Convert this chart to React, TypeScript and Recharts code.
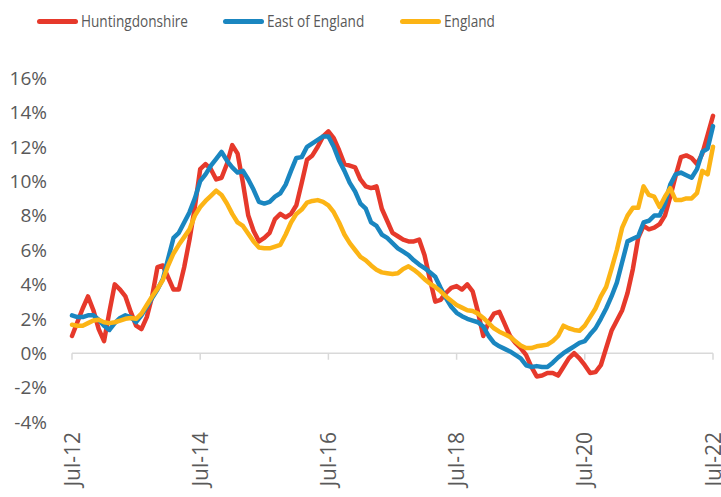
import { LineChart, Line, XAxis, YAxis, Legend, ReferenceLine } from "recharts";

const MONTH_NAMES = ["Jan", "Feb", "Mar", "Apr", "May", "Jun", "Jul", "Aug", "Sep", "Oct", "Nov", "Dec"];

// monthly periods, Jul-12 .. Jul-22
const PERIODS: string[] = [];
for (let i = 0; i <= 120; i++) {
  const m = (6 + i) % 12;
  const y = 12 + Math.floor((6 + i) / 12);
  PERIODS.push(`${MONTH_NAMES[m]}-${y}`);
}

const huntingdonshire = [
  1.0, 1.8, 2.6, 3.3, 2.5, 1.4, 0.7, 2.4, 4.0, 3.7, 3.3, 2.4,
  1.6, 1.4, 2.1, 3.3, 5.0, 5.1, 4.4, 3.7, 3.7, 5.0, 6.6, 8.5,
  10.7, 11.0, 10.7, 10.1, 10.2, 11.0, 12.1, 11.6, 9.9, 8.0, 7.1, 6.5,
  6.7, 7.0, 7.8, 8.1, 7.9, 8.1, 8.6, 9.9, 11.25, 11.5, 12.0, 12.6,
  12.9, 12.5, 11.8, 11.0, 10.9, 10.8, 10.1, 9.7, 9.6, 9.7, 8.4, 7.7,
  7.0, 6.8, 6.6, 6.5, 6.5, 6.6, 5.7, 4.3, 3.0, 3.1, 3.5, 3.8,
  3.9, 3.7, 4.0, 3.6, 2.4, 1.0, 1.8, 2.3, 2.4, 1.7, 1.0, 0.6,
  0.3, -0.1, -0.8, -1.35, -1.3, -1.15, -1.15, -1.3, -0.8, -0.3, 0.0, -0.3,
  -0.7, -1.15, -1.1, -0.7, 0.3, 1.3, 1.9, 2.5, 3.5, 4.9, 6.7, 7.4,
  7.2, 7.3, 7.5, 8.0, 9.1, 10.3, 11.4, 11.5, 11.35, 11.0, 11.6, 12.7,
  13.8,
];

const eastOfEngland = [
  2.2, 2.1, 2.1, 2.2, 2.2, 1.95, 1.6, 1.35, 1.75, 2.05, 2.2, 2.1,
  1.8, 2.2, 2.7, 3.2, 3.7, 4.3, 5.5, 6.7, 7.0, 7.6, 8.2, 9.0,
  10.0, 10.4, 10.9, 11.3, 11.7, 11.2, 10.8, 10.5, 10.6, 10.1, 9.5, 8.8,
  8.7, 8.8, 9.1, 9.3, 9.8, 10.6, 11.35, 11.4, 12.0, 12.2, 12.4, 12.6,
  12.6, 12.0, 11.2, 10.6, 9.9, 9.4, 8.7, 8.4, 7.6, 7.4, 6.9, 6.7,
  6.4, 6.1, 5.9, 5.7, 5.4, 5.15, 4.95, 4.7, 4.45, 3.8, 3.2, 2.7,
  2.35, 2.15, 2.0, 1.9, 1.8, 1.55, 1.0, 0.6, 0.4, 0.25, 0.1, -0.1,
  -0.3, -0.7, -0.8, -0.75, -0.8, -0.8, -0.55, -0.25, 0.0, 0.2, 0.4, 0.6,
  0.7, 1.1, 1.45, 2.0, 2.6, 3.3, 4.1, 5.3, 6.5, 6.65, 6.8, 7.6,
  7.7, 8.0, 8.0, 8.7, 9.8, 10.4, 10.5, 10.35, 10.2, 10.7, 11.7, 11.9,
  13.2,
];

const england = [
  1.65, 1.6, 1.6, 1.75, 1.9, 1.95, 1.8, 1.75, 1.8, 1.9, 2.0, 2.05,
  2.0, 2.3, 2.8, 3.3, 3.75, 4.25, 5.1, 5.8, 6.3, 6.75, 7.2, 8.0,
  8.5, 8.85, 9.15, 9.45, 9.2, 8.7, 8.1, 7.6, 7.4, 6.95, 6.5, 6.15,
  6.1, 6.1, 6.2, 6.3, 6.9, 7.6, 8.1, 8.35, 8.75, 8.85, 8.9, 8.8,
  8.6, 8.2, 7.6, 6.9, 6.4, 6.0, 5.6, 5.4, 5.1, 4.85, 4.7, 4.65,
  4.6, 4.65, 4.9, 5.05, 4.85, 4.6, 4.3, 4.05, 3.85, 3.6, 3.3, 3.05,
  2.8, 2.65, 2.5, 2.45, 2.3, 2.05, 1.75, 1.45, 1.25, 1.1, 0.95, 0.7,
  0.45, 0.3, 0.3, 0.4, 0.45, 0.5, 0.7, 1.0, 1.6, 1.45, 1.35, 1.3,
  1.6, 2.1, 2.6, 3.3, 3.85, 4.9, 6.0, 7.3, 8.0, 8.45, 8.45, 9.7,
  9.2, 9.1, 8.5, 9.1, 9.6, 8.9, 8.9, 9.0, 9.0, 9.3, 10.6, 10.4,
  12.0,
];

const Y_TICKS = [-4, -2, 0, 2, 4, 6, 8, 10, 12, 14, 16];
const X_TICK_LABELS = ["Jul-12", "Jul-14", "Jul-16", "Jul-18", "Jul-20", "Jul-22"];

const SERIES = [
  { key: "huntingdonshire", name: "Huntingdonshire", color: "#e6392b" },
  { key: "eastOfEngland", name: "East of England", color: "#1a86c0" },
  { key: "england", name: "England", color: "#fcb415" },
];

const data = PERIODS.map((period, i) => ({
  period,
  huntingdonshire: huntingdonshire[i],
  eastOfEngland: eastOfEngland[i],
  england: england[i],
}));

const TICK_FONT = "'Open Sans', sans-serif";
const TEXT_COLOR = "#595959";
const AXIS_COLOR = "#d9d9d9";

// legend item x positions, as in the original
const LEGEND_X = [37, 223, 400];

function ChartLegend() {
  return (
    <div style={{ position: "relative", width: 721, height: 40 }}>
      {SERIES.map((s, i) => (
        <div
          key={s.key}
          style={{
            position: "absolute",
            left: LEGEND_X[i],
            top: 10,
            display: "flex",
            alignItems: "center",
            fontFamily: TICK_FONT,
            fontSize: 17,
            lineHeight: "22px",
            color: TEXT_COLOR,
            whiteSpace: "nowrap",
          }}
        >
          <span
            style={{
              display: "inline-block",
              width: 41,
              height: 5,
              borderRadius: 3,
              background: s.color,
              marginRight: 3,
            }}
          />
          <span style={{ display: "inline-block", transform: "scaleX(0.8)", transformOrigin: "left center" }}>
            {s.name}
          </span>
        </div>
      ))}
    </div>
  );
}

function XTick({ x, y, payload }: any) {
  return (
    <text
      x={x}
      y={y}
      transform={`rotate(-90, ${x}, ${y})`}
      textAnchor="end"
      dy="0.36em"
      fill={TEXT_COLOR}
      fontFamily={TICK_FONT}
      fontSize={21}
    >
      {payload.value}
    </text>
  );
}

export default function App() {
  return (
    <div style={{ width: 721, height: 497, background: "#fff" }}>
      <style>{`body { margin: 0; }`}</style>
      <LineChart width={721} height={497} data={data} margin={{ top: 78, right: 8, bottom: 0, left: 0 }}>
        <XAxis
          dataKey="period"
          interval={23}
          axisLine={false}
          tickLine={false}
          tickSize={0}
          tickMargin={10}
          height={75}
          tick={<XTick />}
        />
        <YAxis
          domain={[-4, 16]}
          ticks={Y_TICKS}
          width={72}
          axisLine={false}
          tickLine={false}
          tickSize={0}
          tickMargin={25}
          tickFormatter={(v) => `${v}%`}
          tick={{ fill: TEXT_COLOR, fontFamily: TICK_FONT, fontSize: 19 }}
        />
        <ReferenceLine y={0} stroke={AXIS_COLOR} strokeWidth={1.5} />
        {X_TICK_LABELS.map((label) => (
          <ReferenceLine
            key={label}
            segment={[
              { x: label, y: 0 },
              { x: label, y: -0.38 },
            ]}
            stroke={AXIS_COLOR}
            strokeWidth={1.5}
          />
        ))}
        <Legend
          verticalAlign="middle"
          layout="horizontal"
          wrapperStyle={{ top: 0, left: 0 }}
          content={<ChartLegend />}
        />
        {SERIES.map((s) => (
          <Line
            key={s.key}
            type="linear"
            dataKey={s.key}
            name={s.name}
            stroke={s.color}
            strokeWidth={4.5}
            strokeLinejoin="round"
            strokeLinecap="round"
            dot={false}
            isAnimationActive={false}
          />
        ))}
      </LineChart>
    </div>
  );
}
